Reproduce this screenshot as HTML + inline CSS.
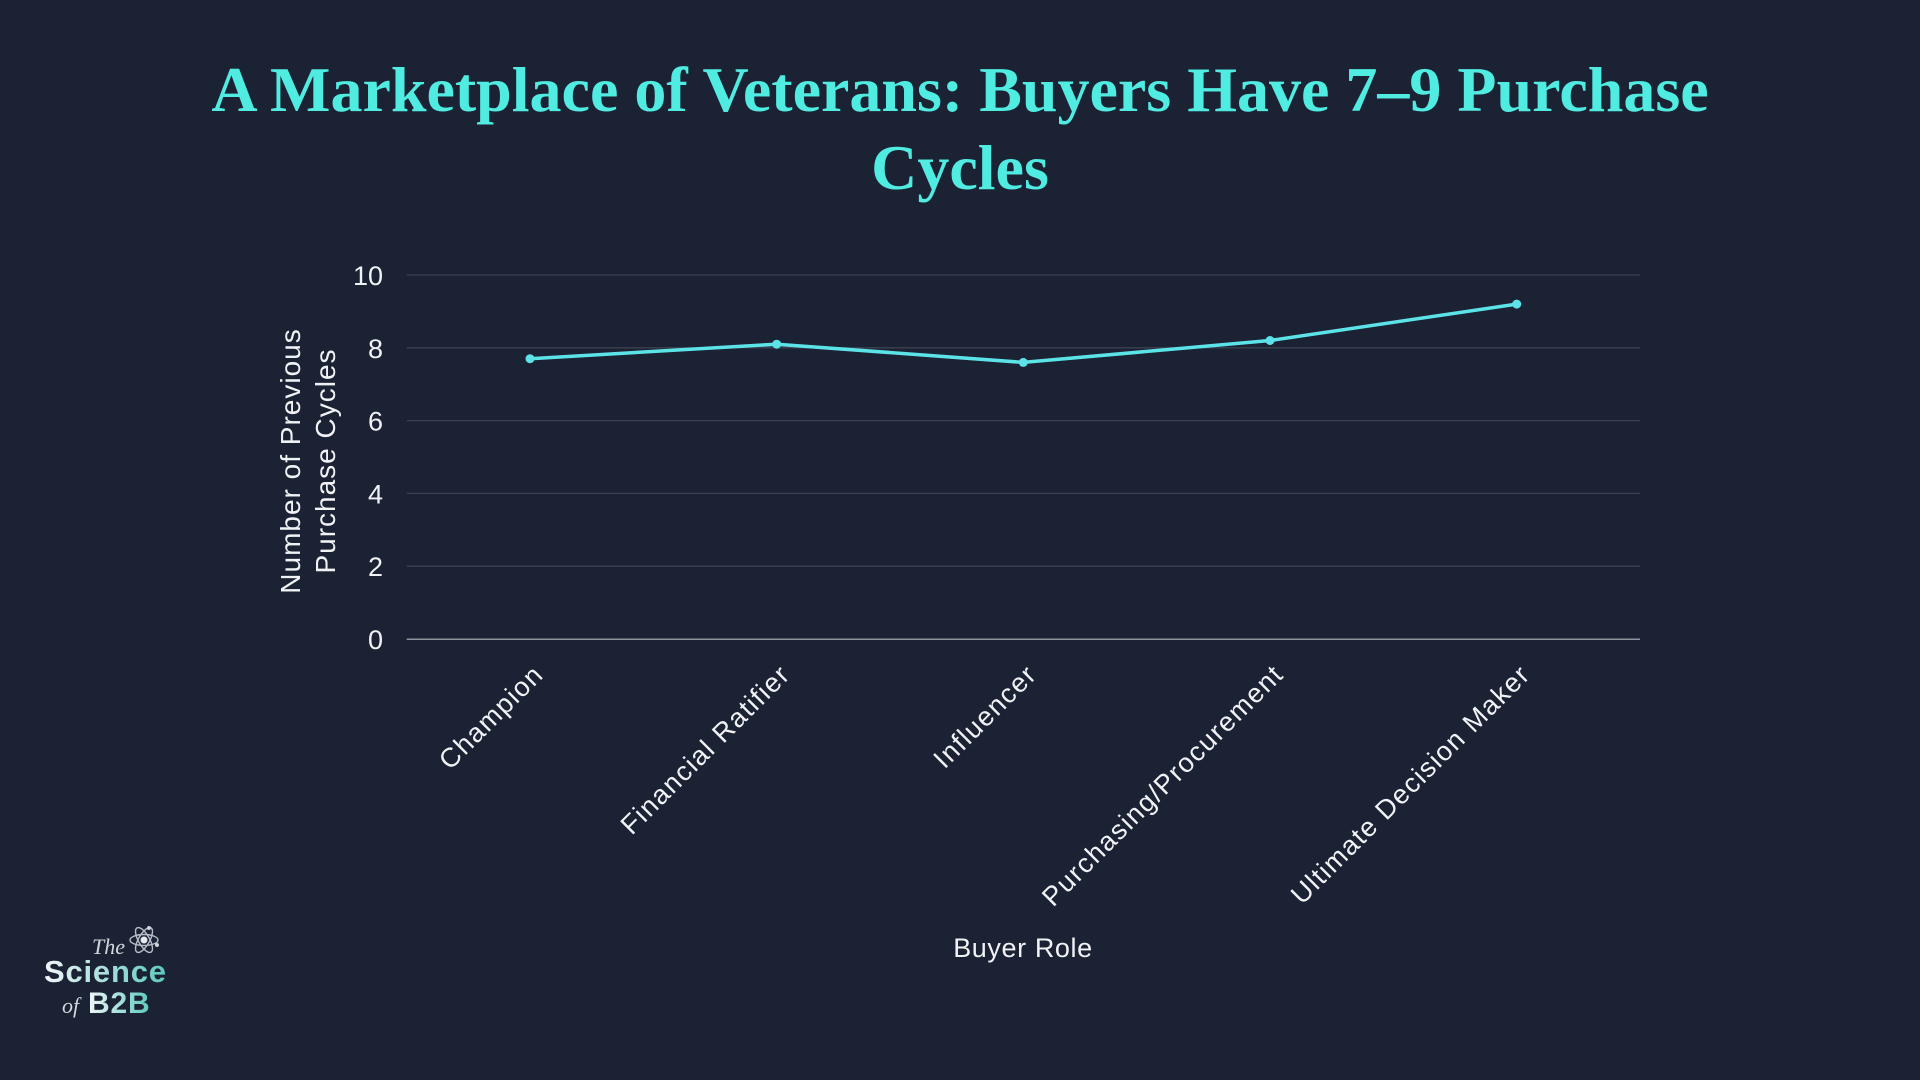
<!DOCTYPE html>
<html>
<head>
<meta charset="utf-8">
<style>
  html, body { margin:0; padding:0; background:#1a2233; }
  body { width:1920px; height:1080px; overflow:hidden; }
  svg { display:block; }
  .sans { font-family: "Liberation Sans", "DejaVu Sans", sans-serif; }
  .serif { font-family: "Liberation Serif", "DejaVu Serif", serif; }
</style>
</head>
<body>
<svg width="1920" height="1080" viewBox="0 0 1920 1080" xmlns="http://www.w3.org/2000/svg">
  <defs>
    <linearGradient id="lg" x1="0" y1="0" x2="1" y2="0">
      <stop offset="0" stop-color="#f2f5f7"/>
      <stop offset="1" stop-color="#5cc9c0"/>
    </linearGradient>
  </defs>
  <rect x="0" y="0" width="1920" height="1080" fill="#1a2233"/>

  <!-- Title -->
  <text class="serif" x="960" y="111" text-anchor="middle" font-size="64" font-weight="bold" fill="#50ebe1">A Marketplace of Veterans: Buyers Have 7–9 Purchase</text>
  <text class="serif" x="960" y="189" text-anchor="middle" font-size="64" font-weight="bold" fill="#50ebe1">Cycles</text>

  <!-- Gridlines -->
  <g stroke="#3a4251" stroke-width="1.3">
    <line x1="406.7" y1="275" x2="1640" y2="275"/>
    <line x1="406.7" y1="347.8" x2="1640" y2="347.8"/>
    <line x1="406.7" y1="420.6" x2="1640" y2="420.6"/>
    <line x1="406.7" y1="493.4" x2="1640" y2="493.4"/>
    <line x1="406.7" y1="566.2" x2="1640" y2="566.2"/>
  </g>
  <line x1="406.7" y1="639.2" x2="1640" y2="639.2" stroke="#8e949d" stroke-width="1.5"/>

  <!-- Y tick labels -->
  <g class="sans" font-size="27" fill="#f0f2f5" text-anchor="end">
    <text x="383" y="285">10</text>
    <text x="383" y="357.8">8</text>
    <text x="383" y="430.6">6</text>
    <text x="383" y="503.4">4</text>
    <text x="383" y="576.2">2</text>
    <text x="383" y="649">0</text>
  </g>

  <!-- Y axis title -->
  <g class="sans" font-size="28" fill="#f0f2f5" text-anchor="middle" letter-spacing="1">
    <text transform="translate(300,461) rotate(-90)">Number of Previous</text>
    <text transform="translate(335,461) rotate(-90)">Purchase Cycles</text>
  </g>

  <!-- Series -->
  <polyline points="530,358.7 776.7,344.2 1023.3,362.4 1270,340.5 1516.7,304.1" fill="none" stroke="#5ce3e8" stroke-width="3.5" stroke-linejoin="round"/>
  <g fill="#5ce3e8">
    <circle cx="530" cy="358.7" r="4.5"/>
    <circle cx="776.7" cy="344.2" r="4.5"/>
    <circle cx="1023.3" cy="362.4" r="4.5"/>
    <circle cx="1270" cy="340.5" r="4.5"/>
    <circle cx="1516.7" cy="304.1" r="4.5"/>
  </g>

  <!-- X tick labels -->
  <g class="sans" font-size="27" fill="#f0f2f5" text-anchor="end" letter-spacing="1.4">
    <text transform="translate(545,676) rotate(-45)">Champion</text>
    <text transform="translate(791.7,676) rotate(-45)">Financial Ratifier</text>
    <text transform="translate(1038.3,676) rotate(-45)">Influencer</text>
    <text transform="translate(1285,676) rotate(-45)">Purchasing/Procurement</text>
    <text transform="translate(1531.7,676) rotate(-45)">Ultimate Decision Maker</text>
  </g>

  <!-- X axis title -->
  <text class="sans" x="1023" y="957" text-anchor="middle" font-size="27" fill="#f0f2f5" letter-spacing="0.6">Buyer Role</text>

  <!-- Logo -->
  <g>
    <text class="serif" x="92" y="954" font-size="22" font-style="italic" fill="#d4d8de">The</text>
    <g transform="translate(144,940)" fill="none" stroke="#b8bec8" stroke-width="1.4">
      <ellipse cx="0" cy="0" rx="14" ry="5.5"/>
      <ellipse cx="0" cy="0" rx="14" ry="5.5" transform="rotate(60)"/>
      <ellipse cx="0" cy="0" rx="14" ry="5.5" transform="rotate(-60)"/>
      <circle cx="0" cy="0" r="3.5" fill="#e6e9ee" stroke="none"/>
      <circle cx="5" cy="-12" r="2" fill="#d0d4da" stroke="none"/>
      <circle cx="13" cy="5" r="2" fill="#d0d4da" stroke="none"/>
    </g>
    <text class="sans" x="44" y="982" font-size="31" font-weight="bold" fill="url(#lg)" letter-spacing="0.8">Science</text>
    <text class="serif" x="62" y="1013" font-size="22" font-style="italic" fill="#d4d8de">of</text>
    <text class="sans" x="88" y="1013" font-size="30" font-weight="bold" fill="url(#lg)" letter-spacing="0.8">B2B</text>
  </g>
</svg>
</body>
</html>
